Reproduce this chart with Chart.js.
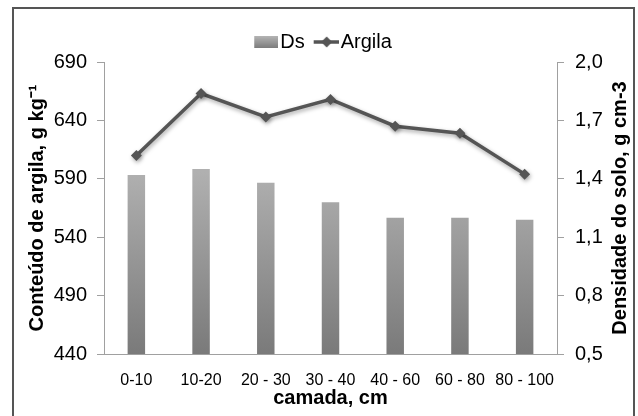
<!DOCTYPE html>
<html>
<head>
<meta charset="utf-8">
<script src="https://cdn.jsdelivr.net/npm/chart.js@4.4.1/dist/chart.umd.min.js"></script>
<style>
  html, body { margin: 0; padding: 0; background: #fff; }
  #wrap { width: 638px; height: 416px; }
</style>
</head>
<body>
<div id="wrap"><canvas id="chart" width="638" height="416"></canvas></div>
<script>
const categories = ['0-10', '10-20', '20 - 30', '30 - 40', '40 - 60', '60 - 80', '80 - 100']
const dsValues = [1.42, 1.45, 1.38, 1.28, 1.20, 1.20, 1.19]
const argilaValues = [610, 663, 643, 658, 635, 629, 594]
const argilaTicks = [440, 490, 540, 590, 640, 690]
const dsTicks = [0.5, 0.8, 1.1, 1.4, 1.7, 2.0]

const FONT = "'Liberation Sans', Arial, sans-serif"
const LINE_COLOR = '#555555'
const AXIS_COLOR = '#a0a0a0'
const rightTitle = 'Densidade do solo, g cm-3'

// legend swatches (content sits at the right so it hugs the text)
function swatch (draw) {
  const c = document.createElement('canvas')
  c.width = 40
  c.height = 14
  draw(c.getContext('2d'))
  return c
}
const dsSwatch = swatch(function (g) {
  const grd = g.createLinearGradient(0, 1, 0, 13)
  grd.addColorStop(0, '#b4b4b4')
  grd.addColorStop(1, '#7c7c7c')
  g.fillStyle = grd
  g.fillRect(16, 1, 24, 12)
})
const argilaSwatch = swatch(function (g) {
  g.strokeStyle = LINE_COLOR
  g.lineWidth = 3.5
  g.beginPath()
  g.moveTo(15, 7)
  g.lineTo(40, 7)
  g.stroke()
  g.fillStyle = LINE_COLOR
  g.beginPath()
  g.moveTo(28, 1.5)
  g.lineTo(33.5, 7)
  g.lineTo(28, 12.5)
  g.lineTo(22.5, 7)
  g.closePath()
  g.fill()
})

const frame = {
  id: 'frame',
  beforeDatasetDraw (chart, args) {
    if (args.index === 1) {
      const ctx = chart.ctx
      ctx.save()
      ctx.shadowColor = 'rgba(0,0,0,0.35)'
      ctx.shadowBlur = 4
      ctx.shadowOffsetX = 1
      ctx.shadowOffsetY = 2
    }
  },
  afterDatasetDraw (chart, args) {
    if (args.index === 1) chart.ctx.restore()
  },
  afterDraw (chart) {
    const ctx = chart.ctx
    const area = chart.chartArea
    ctx.save()
    ctx.strokeStyle = '#555'
    ctx.lineWidth = 2
    ctx.strokeRect(13, 8, 621, 430)
    // right axis title reads bottom to top
    ctx.translate(620, (area.top + area.bottom) / 2)
    ctx.rotate(-Math.PI / 2)
    ctx.fillStyle = '#000'
    ctx.font = 'bold 20px ' + FONT
    ctx.textAlign = 'center'
    ctx.textBaseline = 'middle'
    ctx.fillText(rightTitle, 0, 0)
    ctx.restore()
  }
}

let chart = new Chart(document.querySelector('#chart'), {
  plugins: [frame],
  data: {
    labels: categories,
    datasets: [
      {
        type: 'bar',
        label: 'Ds',
        data: dsValues,
        yAxisID: 'y1',
        order: 2,
        backgroundColor: function (context) {
          const area = context.chart.chartArea
          if (!area) return '#999'
          const g = context.chart.ctx.createLinearGradient(0, area.top + 110, 0, area.bottom)
          g.addColorStop(0, '#b0b0b0')
          g.addColorStop(1, '#7a7a7a')
          return g
        },
        categoryPercentage: 1,
        barPercentage: 0.27
      },
      {
        type: 'line',
        label: 'Argila',
        data: argilaValues,
        yAxisID: 'y',
        order: 1,
        borderColor: LINE_COLOR,
        backgroundColor: LINE_COLOR,
        borderWidth: 3.5,
        pointStyle: 'rectRot',
        pointRadius: 5.5,
        pointBackgroundColor: LINE_COLOR,
        pointBorderWidth: 0,
        tension: 0
      }
    ]
  },
  options: {
    responsive: false,
    animation: false,
    layout: {
      padding: { top: 30, left: 0, right: 0, bottom: 0 }
    },
    scales: {
      x: {
        afterFit: function (scale) { scale.height = 62 },
        grid: { display: false },
        border: { display: true, color: AXIS_COLOR },
        ticks: {
          color: '#000',
          padding: 9,
          maxRotation: 0,
          font: { family: FONT, size: 16 }
        },
        title: {
          display: true,
          text: 'camada, cm',
          color: '#000',
          padding: { top: 0, bottom: 6 },
          font: { family: FONT, size: 20, weight: 'bold' }
        }
      },
      y: {
        position: 'left',
        min: 440,
        max: 690,
        afterFit: function (scale) { scale.width = 104 },
        afterBuildTicks: function (scale) {
          scale.ticks = argilaTicks.map(v => ({ value: v }))
        },
        grid: {
          drawOnChartArea: false,
          drawTicks: true,
          tickLength: 7,
          color: AXIS_COLOR
        },
        border: { display: true, color: AXIS_COLOR },
        ticks: {
          color: '#000',
          padding: 10,
          font: { family: FONT, size: 20 }
        },
        title: {
          display: true,
          text: 'Conteúdo de argila, g kg⁻¹',
          color: '#000',
          padding: { top: 25, bottom: 0 },
          font: { family: FONT, size: 20, weight: 'bold' }
        }
      },
      y1: {
        position: 'right',
        min: 0.5,
        max: 2.0,
        afterFit: function (scale) { scale.width = 81 },
        afterBuildTicks: function (scale) {
          scale.ticks = dsTicks.map(v => ({ value: v }))
        },
        grid: {
          drawOnChartArea: false,
          drawTicks: true,
          tickLength: 7,
          color: AXIS_COLOR
        },
        border: { display: true, color: AXIS_COLOR },
        ticks: {
          color: '#000',
          padding: 11,
          font: { family: FONT, size: 20 },
          callback: function (value) {
            return value.toFixed(1).replace('.', ',')
          }
        }
      }
    },
    plugins: {
      tooltip: { enabled: false },
      legend: {
        display: true,
        position: 'top',
        labels: {
          color: '#000',
          font: { family: FONT, size: 20 },
          usePointStyle: true,
          pointStyleWidth: 24,
          boxHeight: 14,
          padding: 2,
          sort: function (a, b) { return a.datasetIndex - b.datasetIndex },
          generateLabels: function (chart) {
            const items = Chart.defaults.plugins.legend.labels.generateLabels(chart)
            items.forEach(function (item) {
              item.pointStyle = item.datasetIndex === 0 ? dsSwatch : argilaSwatch
            })
            return items
          }
        }
      }
    }
  }
})
</script>
</body>
</html>
